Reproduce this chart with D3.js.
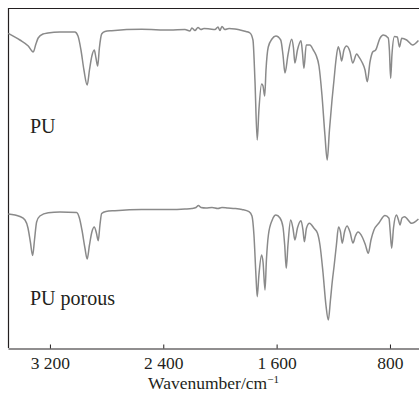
<!DOCTYPE html>
<html>
<head>
<meta charset="utf-8">
<script src="https://cdn.jsdelivr.net/npm/d3@7"></script>
<style>
  html, body { margin: 0; padding: 0; background: #fff; }
  svg text { font-family: 'Liberation Serif', 'Times New Roman', serif; fill: #231f20; }
</style>
</head>
<body>
<svg width="419" height="399"></svg>
<script>
// PU spectrum (wavenumber in cm-1, transmittance in arbitrary units)
const puWavenumber = [3494, 3412, 3353, 3318, 3299, 3283, 3249, 3214, 3129, 3024, 3002, 2981, 2960, 2937, 2921, 2904, 2887, 2875, 2863, 2851, 2835, 2812, 2764, 2553,
  2353, 2247, 2212, 2198, 2176, 2155, 2134, 2113, 2071, 2035, 2014, 2000, 1986, 1965, 1936, 1894, 1859, 1816, 1788, 1767, 1753, 1737, 1725, 1706, 1696, 1684,
  1675, 1659, 1633, 1605, 1571, 1555, 1541, 1520, 1494, 1481, 1471, 1453, 1428, 1418, 1407, 1391, 1365, 1341, 1322, 1301, 1280, 1259, 1243, 1227, 1209, 1195,
  1181, 1165, 1153, 1141, 1125, 1106, 1082, 1063, 1035, 1019, 998, 976, 960, 941, 922, 901, 871, 847, 812, 804, 795, 786, 768, 748, 733, 717, 682, 641, 599];
const puSignal = [314.7, 308, 302, 296, 304, 310, 314, 315, 316, 316, 312, 298, 278, 263, 278, 292, 298, 290, 282, 300, 314, 316.5, 317.3, 318.7,
  318, 318.5, 317, 320, 317.5, 320.5, 318.5, 319.5, 319, 318.5, 321, 317.5, 321.5, 318.5, 319.5, 319, 318, 316.5, 315, 308, 268, 208, 238, 264, 262, 252,
  278, 301, 309, 312, 308, 293, 275, 293, 308.7, 300, 285, 298, 307.3, 296, 279.7, 303, 303, 298, 293, 282, 253, 213, 188, 218, 248, 268,
  288, 301.3, 296, 287, 298, 302, 296.3, 285, 294, 291, 286, 278, 266.3, 286, 296, 298, 309.7, 313, 310, 298, 269.7, 293, 311.5, 311, 301, 309.7, 308, 303, 307.5];

// PU porous spectrum
const porousWavenumber = [3494, 3412, 3376, 3355, 3338, 3322, 3309, 3294, 3271, 3212, 3129, 3012, 2992, 2974, 2953, 2937, 2921, 2904, 2887, 2872, 2859, 2847, 2835, 2805, 2741, 2553,
  2353, 2247, 2198, 2169, 2152, 2134, 2099, 2056, 2014, 1986, 1944, 1894, 1845, 1795, 1774, 1760, 1746, 1737, 1725, 1706, 1696, 1682, 1672, 1658,
  1631, 1605, 1576, 1555, 1543, 1532, 1520, 1501, 1485, 1471, 1453, 1428, 1414, 1404, 1389, 1368, 1336, 1312, 1294, 1273, 1252, 1235, 1220, 1206, 1195,
  1178, 1163, 1149, 1137, 1121, 1103, 1082, 1061, 1044, 1026, 994, 973, 953, 934, 913, 878, 835, 807, 798, 788, 775, 754, 740, 729, 715, 697, 647, 599];
const porousSignal = [134, 131.5, 128, 120, 106, 92.5, 108, 126, 132, 135.3, 136, 135.5, 130, 118, 100, 89, 103, 116, 121, 115, 107.3, 123, 134.5, 136.5, 137.3, 138.5,
  138.5, 139, 139.5, 140.5, 142.5, 140.5, 140, 140.5, 139.5, 140.5, 140, 139.5, 138.5, 136.3, 132, 113, 73, 51.3, 73, 93, 86, 58, 88, 113,
  128, 133, 130, 121, 103, 79.7, 103, 128, 120, 108, 120, 127.3, 118, 106.3, 120, 124.7, 119.7, 115, 103, 76, 43, 28, 48, 68, 81,
  103, 121, 116, 104.7, 116, 122, 116, 105, 112, 116, 110.5, 103, 94.7, 108, 118, 125, 132.5, 129.7, 116, 99.7, 120, 133, 128, 123, 130, 131.3, 124.7, 129];

const seriesLabels = ['PU', 'PU porous'];
const xTicks = [3200, 2400, 1600, 800];
const xTickLabels = ['3 200', '2 400', '1 600', '800'];
const xTitle = 'Wavenumber/cm';

const svg = d3.select('svg');
const plotLeft = 8, plotRight = 419, plotTop = 8, plotBottom = 348;

/* ==================================
Scales
================================== */
const xScale = d3.scaleLinear().domain([3496, 595]).range([plotLeft, plotRight]);
const yScale = d3.scaleLinear().domain([0, 340]).range([plotBottom, plotTop]);

/* ==================================
Frame
================================== */
svg.append('line')
  .attr('x1', plotLeft + 0.5).attr('x2', plotLeft + 0.5)
  .attr('y1', plotTop).attr('y2', plotBottom)
  .attr('stroke', '#231f20').attr('stroke-width', 1.2);
svg.append('line')
  .attr('x1', plotLeft).attr('x2', plotRight)
  .attr('y1', plotTop + 0.5).attr('y2', plotTop + 0.5)
  .attr('stroke', '#231f20').attr('stroke-width', 1.2);

/* ==================================
Bottom axis (ticks point inward)
================================== */
const xAxis = d3.axisBottom(xScale)
  .tickValues(xTicks)
  .tickFormat((d, i) => xTickLabels[i])
  .tickSizeInner(-4)
  .tickSizeOuter(0)
  .tickPadding(8);

const axisG = svg.append('g')
  .attr('transform', `translate(0, ${plotBottom + 0.5})`)
  .call(xAxis);
axisG.select('.domain').attr('stroke', '#231f20').attr('stroke-width', 1.2);
axisG.selectAll('.tick line').attr('stroke', '#231f20');
axisG.selectAll('.tick text')
  .attr('font-family', "'Liberation Serif', serif")
  .attr('font-size', 17.5)
  .attr('fill', '#231f20');

const title = svg.append('text')
  .attr('x', (plotLeft + plotRight) / 2)
  .attr('y', 389)
  .attr('text-anchor', 'middle')
  .attr('font-size', 17.5)
  .text(xTitle);
title.append('tspan')
  .attr('font-size', 11)
  .attr('dy', -6)
  .text('\u2212' + '1');

/* ==================================
Spectra
================================== */
const line = d3.line()
  .x((d) => xScale(d[0]))
  .y((d) => yScale(d[1]))
  .curve(d3.curveMonotoneX);

const puData = puWavenumber.map((w, i) => [w, puSignal[i]]);
const porousData = porousWavenumber.map((w, i) => [w, porousSignal[i]]);

[puData, porousData].forEach((data) => {
  svg.append('path')
    .datum(data)
    .attr('fill', 'none')
    .attr('stroke', '#8a8a8a')
    .attr('stroke-width', 1.5)
    .attr('stroke-linejoin', 'round')
    .attr('d', line);
});

/* ==================================
Series labels
================================== */
svg.append('text').attr('x', 30).attr('y', 133).attr('font-size', 20).text(seriesLabels[0]);
svg.append('text').attr('x', 30).attr('y', 305).attr('font-size', 20).text(seriesLabels[1]);
</script>
</body>
</html>
